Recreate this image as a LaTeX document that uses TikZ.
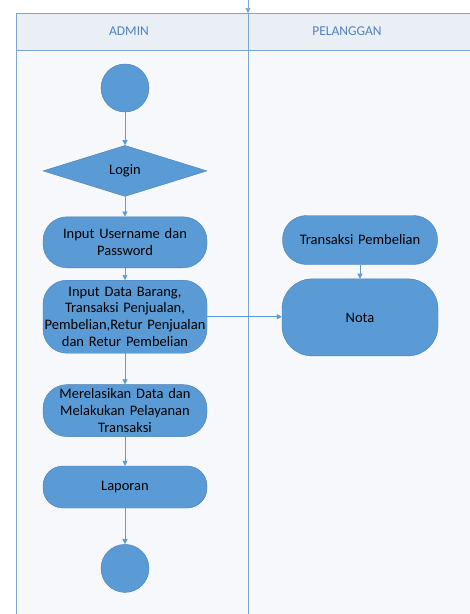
\documentclass[tikz,border=0pt]{standalone}
\usepackage{fontspec}
\setmainfont{Carlito}
\usetikzlibrary{positioning, arrows.meta, shapes}

\definecolor{actblue}{RGB}{91,155,213}
\definecolor{actline}{RGB}{70,125,180}
\definecolor{lanecol}{RGB}{125,165,210}
\definecolor{headfill}{RGB}{234,238,245}
\definecolor{lanefill}{RGB}{246,248,251}
\definecolor{headtext}{RGB}{84,130,190}

\begin{document}
\begin{tikzpicture}[
    x=1pt, y=-1pt,
    font=\fontsize{14.5}{16.7}\selectfont,
    act/.style={rectangle, rounded corners=24pt, draw=actline, line width=0.4pt, fill=actblue, text width=164pt, inner sep=0pt, align=center, minimum height=51pt},
    decision/.style={diamond, draw=actline, line width=0.4pt, fill=actblue, inner sep=0pt, minimum width=164pt, minimum height=51pt},
    dot/.style={circle, draw=actline, line width=0.4pt, fill=actblue, minimum size=48pt, inner sep=0pt},
    lane/.style={draw=lanecol, line width=0.6pt},
    lanehead/.style={text=headtext, font=\fontsize{13.5}{16}\selectfont},
    flow/.style={-{Triangle[width=5pt,length=5pt]}, draw=actblue, line width=0.6pt}
]
\useasboundingbox (0,0) rectangle (470,614);

% swimlanes
\fill[lanefill] (16,50) rectangle (470,614);
\fill[headfill] (16,13) rectangle (470,50);
\draw[lane] (16,614) -- (16,13) -- (470,13);
\draw[lane] (16,50) -- (470,50);
\draw[lane, -{Triangle[width=5pt,length=5pt]}] (248,0) -- (248,13);
\draw[lane] (248,13) -- (248,614);
\node[lanehead] (admin) at (129,31) {ADMIN};
\node[lanehead] (pelanggan) at (347,31) {PELANGGAN};

% admin
\node[dot] (start) at (125,88) {};
\node[decision] (login) [below=33pt of start] {Login};
\node[act] (userpass) [below=20pt of login] {Input Username dan\\Password};
\node[act, minimum height=73pt] (inputdata) [below=12pt of userpass] {Input Data Barang,\\Transaksi Penjualan,\\Pembelian,Retur Penjualan\\dan Retur Pembelian};
\node[act, minimum height=52pt] (relasi) [below=31pt of inputdata] {Merelasikan Data dan\\Melakukan Pelayanan\\Transaksi};
\node[act, minimum height=42pt, rounded corners=20pt] (laporan) [below=29pt of relasi] {Laporan};
\node[dot] (finish) [below=36pt of laporan] {};

% pelanggan
\node[act, text width=155pt, minimum height=49pt] (beli) at (360,240) {Transaksi Pembelian};
\node[act, text width=156pt, minimum height=77pt, rounded corners=30pt] (nota) [below=14pt of beli] {Nota};

\draw[flow] (start) -- (login);
\draw[flow] (login) -- (userpass);
\draw[flow] (userpass) -- (inputdata);
\draw[flow] (inputdata) -- (relasi);
\draw[flow] (relasi) -- (laporan);
\draw[flow] (laporan) -- (finish);
\draw[flow] (beli) -- (nota);
\draw[flow] (inputdata.east) -- (inputdata.east -| nota.west);

\end{tikzpicture}
\end{document}
